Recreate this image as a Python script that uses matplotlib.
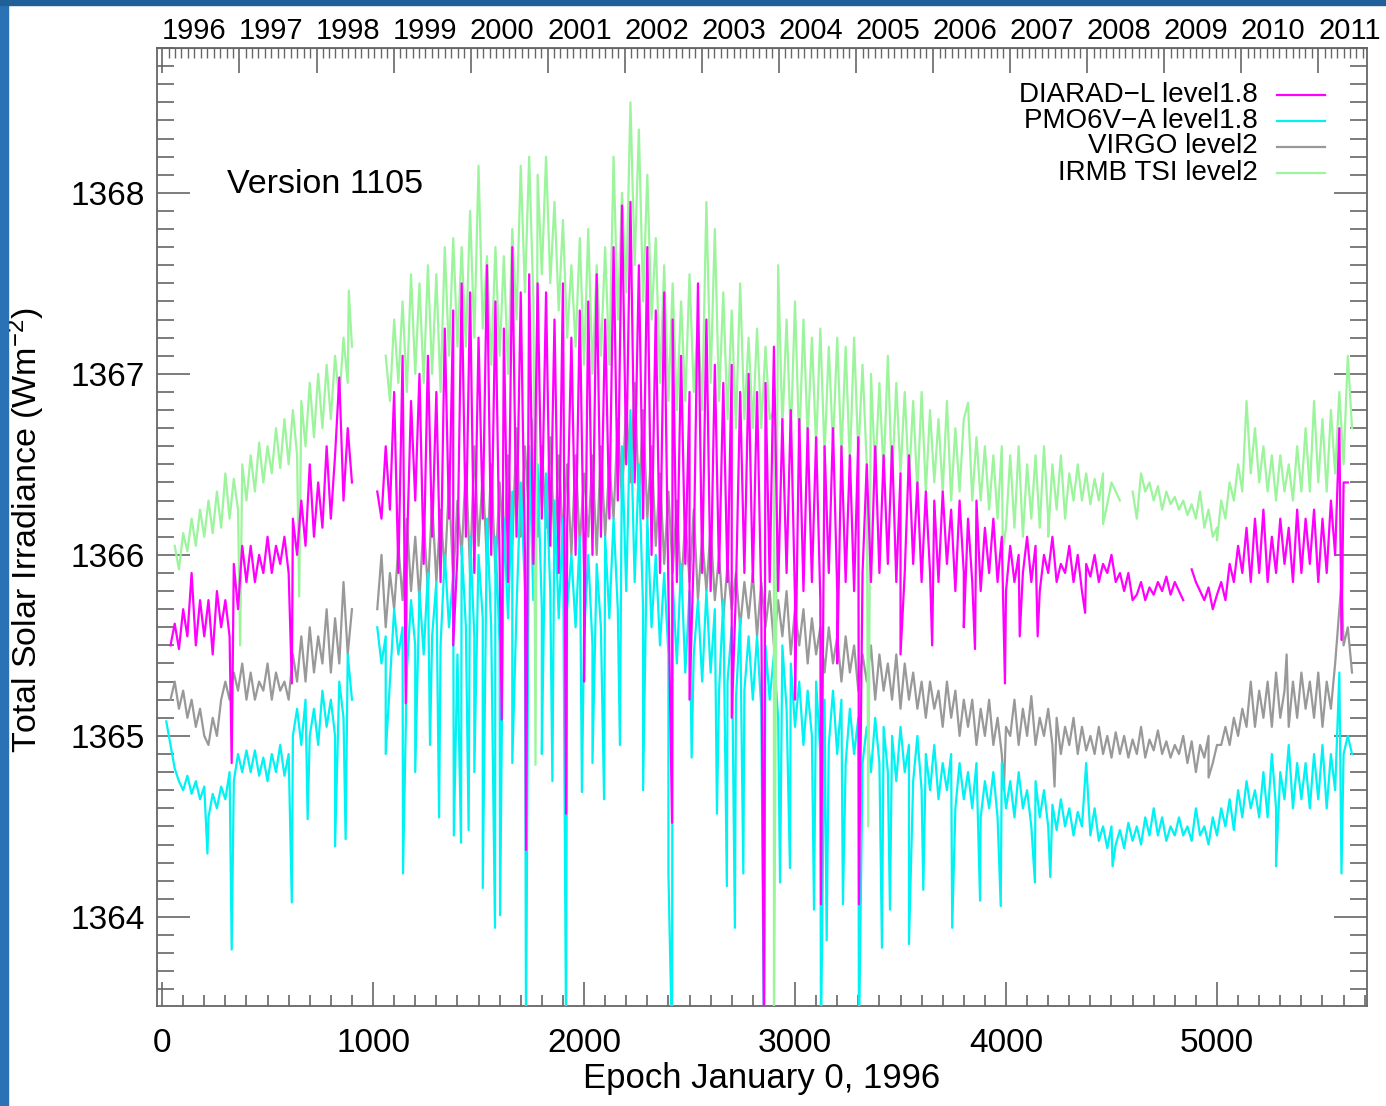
import datetime as dt
import numpy as np
import matplotlib
matplotlib.use('Agg')
import matplotlib.pyplot as plt
from matplotlib.patches import Rectangle
from matplotlib.ticker import MultipleLocator

plt.rcParams['font.family'] = ['Liberation Sans', 'DejaVu Sans']
plt.rcParams['mathtext.fontset'] = 'custom'
plt.rcParams['mathtext.rm'] = 'Liberation Sans'
plt.rcParams['mathtext.it'] = 'Liberation Sans:italic'

nan = np.nan

# sample days (days since January 0, 1996), one value every 20 days
days = np.arange(20, 5641, 20)

# DIARAD-L level1.8
diarad = [
    nan, 1365.5, 1365.62, 1365.48, 1365.7, 1365.55, 1365.9, 1365.5, 1365.75, 1365.55,
    1365.75, 1365.45, 1365.8, 1365.6, 1365.75, 1365.55, 1365.95, 1365.7, 1366.05, 1365.85,
    1366.05, 1365.85, 1366.0, 1365.9, 1366.1, 1365.9, 1366.05, 1365.95, 1366.1, 1365.9,
    1366.2, 1366.0, 1366.3, 1366.05, 1366.5, 1366.1, 1366.4, 1366.15, 1366.6, 1366.2,
    1366.55, 1366.98, 1366.3, 1366.7, 1366.4, nan, nan, nan, nan, nan,
    1366.35, 1366.2, 1366.6, 1366.25, 1366.9, 1365.9, 1367.1, 1366.0, 1366.85, 1366.3,
    1367.0, 1365.95, 1367.1, 1366.1, 1366.9, 1365.85, 1367.25, 1366.2, 1367.35, 1366.0,
    1367.5, 1366.1, 1367.45, 1365.9, 1367.2, 1366.2, 1367.6, 1366.0, 1367.4, 1365.95,
    1367.25, 1365.85, 1367.7, 1366.1, 1367.45, 1366.0, 1367.55, 1365.95, 1367.5, 1366.2,
    1367.45, 1366.05, 1367.3, 1365.9, 1367.5, 1366.15, 1367.2, 1366.0, 1367.35, 1365.9,
    1367.4, 1366.0, 1367.55, 1366.1, 1367.3, 1366.2, 1367.7, 1366.3, 1367.93, 1366.5,
    1367.95, 1366.4, 1367.6, 1366.2, 1367.7, 1366.0, 1367.35, 1365.9, 1367.45, 1365.8,
    1367.3, 1365.85, 1367.1, 1365.95, 1366.9, 1366.0, 1367.5, 1365.9, 1367.3, 1365.8,
    1367.05, 1365.9, 1366.95, 1365.85, 1367.05, 1365.8, 1366.9, 1365.9, 1367.0, 1365.85,
    1366.9, 1365.75, 1366.95, 1365.85, 1367.15, 1365.8, 1366.75, 1365.9, 1366.8, 1365.75,
    1366.75, 1365.8, 1366.7, 1365.85, 1366.65, 1365.75, 1366.6, 1365.9, 1366.7, 1365.8,
    1366.6, 1365.85, 1366.55, 1365.8, 1366.65, 1365.9, 1366.5, 1365.85, 1366.6, 1365.9,
    1366.55, 1365.95, 1366.6, 1365.85, 1366.45, 1365.9, 1366.55, 1365.95, 1366.4, 1365.85,
    1366.35, 1365.9, 1366.3, 1365.85, 1366.35, 1365.95, 1366.25, 1365.8, 1366.3, 1365.9,
    1366.2, 1365.85, 1366.3, 1365.8, 1366.15, 1365.9, 1366.2, 1365.85, 1366.1, 1365.8,
    1366.05, 1365.85, 1366.0, 1365.9, 1366.1, 1365.85, 1366.05, 1365.8, 1366.0, 1365.9,
    1366.1, 1365.85, 1365.95, 1365.9, 1366.05, 1365.85, 1366.0, 1365.8, 1365.95, 1365.88,
    1366.0, 1365.85, 1365.95, 1365.9, 1366.0, 1365.85, 1365.9, 1365.8, 1365.9, 1365.75,
    1365.78, 1365.85, 1365.75, 1365.82, 1365.78, 1365.85, 1365.8, 1365.88, 1365.78, 1365.85,
    1365.8, 1365.75, nan, 1365.92, 1365.85, 1365.8, 1365.75, 1365.82, 1365.7, 1365.78,
    1365.85, 1365.75, 1365.95, 1365.85, 1366.05, 1365.9, 1366.15, 1365.85, 1366.2, 1365.9,
    1366.25, 1365.85, 1366.1, 1365.9, 1366.2, 1365.95, 1366.15, 1365.85, 1366.25, 1365.9,
    1366.2, 1365.95, 1366.25, 1365.85, 1366.2, 1365.9, 1366.3, 1366.0, 1366.7, 1366.4,
    1366.4, nan,
]

# PMO6V-A level1.8
pmo6v = [
    1365.08, 1364.95, 1364.82, 1364.75, 1364.7, 1364.78, 1364.68, 1364.75, 1364.65, 1364.72,
    1364.55, 1364.68, 1364.6, 1364.72, 1364.65, 1364.8, 1364.75, 1364.9, 1364.8, 1364.92,
    1364.8, 1364.92, 1364.78, 1364.88, 1364.75, 1364.9, 1364.8, 1364.95, 1364.78, 1364.9,
    1365.0, 1365.15, 1364.95, 1365.2, 1365.0, 1365.15, 1364.95, 1365.25, 1365.05, 1365.2,
    1365.0, 1365.3, 1365.1, 1365.45, 1365.2, nan, nan, nan, nan, nan,
    1365.6, 1365.4, 1365.55, 1365.3, 1365.7, 1365.45, 1365.6, 1365.35, 1365.75, 1365.5,
    1365.8, 1365.45, 1365.9, 1365.55, 1365.85, 1365.5, 1366.0, 1365.6, 1365.9, 1365.45,
    1366.05, 1365.6, 1366.1, 1365.55, 1366.0, 1365.65, 1366.2, 1365.6, 1366.1, 1365.5,
    1366.2, 1365.65, 1366.35, 1365.7, 1366.4, 1365.8, 1366.6, 1365.75, 1366.5, 1365.7,
    1366.45, 1365.8, 1366.3, 1365.65, 1366.2, 1365.7, 1366.0, 1365.6, 1366.1, 1365.55,
    1366.0, 1365.5, 1365.95, 1365.6, 1366.1, 1365.65, 1366.2, 1365.7, 1366.6, 1365.8,
    1366.8, 1365.85, 1366.5, 1365.7, 1366.2, 1365.6, 1366.0, 1365.5, 1365.9, 1365.45,
    1365.85, 1365.4, 1365.95, 1365.35, 1365.8, 1365.45, 1365.75, 1365.3, 1365.8, 1365.35,
    1365.7, 1365.25, 1365.75, 1365.3, 1365.6, 1365.2, 1365.65, 1365.25, 1365.55, 1365.2,
    1365.55, 1365.15, 1365.5, 1365.2, 1365.45, 1365.1, 1365.5, 1365.15, 1365.4, 1365.05,
    1365.3, 1364.95, 1365.25, 1365.0, 1365.3, 1364.9, 1365.2, 1364.95, 1365.25, 1364.9,
    1365.2, 1364.85, 1365.15, 1364.9, 1365.1, 1364.85, 1365.05, 1364.8, 1365.1, 1364.85,
    1365.05, 1364.8, 1365.0, 1364.75, 1365.05, 1364.8, 1364.95, 1364.75, 1365.0, 1364.7,
    1364.9, 1364.7, 1364.95, 1364.65, 1364.85, 1364.7, 1364.9, 1364.6, 1364.85, 1364.65,
    1364.8, 1364.6, 1364.85, 1364.55, 1364.75, 1364.6, 1364.8, 1364.55, 1364.85, 1364.6,
    1364.75, 1364.55, 1364.8, 1364.6, 1364.7, 1364.5, 1364.75, 1364.55, 1364.7, 1364.5,
    1364.62, 1364.48, 1364.65, 1364.5, 1364.6, 1364.45, 1364.58, 1364.5, 1364.85, 1364.45,
    1364.6, 1364.42, 1364.5, 1364.38, 1364.5, 1364.4, 1364.48, 1364.38, 1364.52, 1364.42,
    1364.5, 1364.4, 1364.55, 1364.45, 1364.6, 1364.45, 1364.55, 1364.42, 1364.5, 1364.45,
    1364.55, 1364.45, 1364.5, 1364.42, 1364.6, 1364.45, 1364.5, 1364.4, 1364.55, 1364.45,
    1364.6, 1364.5, 1364.65, 1364.48, 1364.7, 1364.55, 1364.75, 1364.6, 1364.7, 1364.55,
    1364.8, 1364.55, 1364.9, 1364.6, 1364.8, 1364.65, 1364.95, 1364.6, 1364.85, 1364.65,
    1364.85, 1364.6, 1364.9, 1364.65, 1364.95, 1364.6, 1364.9, 1364.7, 1365.35, 1364.9,
    1365.0, 1364.9,
]

# VIRGO level2
virgo = [
    nan, 1365.2, 1365.3, 1365.15, 1365.25, 1365.1, 1365.2, 1365.05, 1365.15, 1365.0,
    1364.95, 1365.1, 1365.0, 1365.2, 1365.3, 1365.2, 1365.35, 1365.25, 1365.4, 1365.2,
    1365.35, 1365.2, 1365.3, 1365.25, 1365.4, 1365.2, 1365.35, 1365.25, 1365.3, 1365.2,
    1365.45, 1365.3, 1365.55, 1365.3, 1365.6, 1365.35, 1365.55, 1365.4, 1365.7, 1365.35,
    1365.65, 1365.4, 1365.85, 1365.45, 1365.7, nan, nan, nan, nan, nan,
    1365.7, 1366.0, 1365.6, 1365.9, 1365.7, 1366.05, 1365.75, 1366.2, 1365.8, 1366.1,
    1365.75, 1366.2, 1365.8, 1366.3, 1365.85, 1366.25, 1365.9, 1366.4, 1365.85, 1366.3,
    1366.0, 1366.5, 1365.9, 1366.6, 1366.05, 1366.45, 1365.95, 1366.5, 1365.9, 1366.4,
    1366.0, 1366.55, 1366.05, 1366.7, 1366.1, 1366.6, 1366.2, 1366.75, 1366.1, 1366.6,
    1366.15, 1366.65, 1366.05, 1366.55, 1366.1, 1366.5, 1366.0, 1366.55, 1366.05, 1366.45,
    1366.1, 1366.55, 1366.0, 1366.6, 1366.1, 1366.5, 1366.2, 1366.75, 1366.3, 1366.85,
    1366.4, 1366.95, 1366.3, 1366.8, 1366.2, 1366.6, 1366.05, 1366.45, 1365.95, 1366.35,
    1365.9, 1366.3, 1365.8, 1366.2, 1365.85, 1366.25, 1365.75, 1366.1, 1365.8, 1366.15,
    1365.75, 1366.0, 1365.65, 1365.95, 1365.7, 1365.9, 1365.6, 1365.85, 1365.65, 1365.9,
    1365.55, 1365.85, 1365.6, 1365.8, 1365.5, 1365.75, 1365.55, 1365.8, 1365.45, 1365.7,
    1365.5, 1365.7, 1365.4, 1365.65, 1365.45, 1365.6, 1365.35, 1365.6, 1365.4, 1365.55,
    1365.3, 1365.55, 1365.35, 1365.5, 1365.25, 1365.45, 1365.3, 1365.5, 1365.2, 1365.45,
    1365.25, 1365.4, 1365.2, 1365.45, 1365.15, 1365.4, 1365.2, 1365.35, 1365.15, 1365.3,
    1365.1, 1365.3, 1365.15, 1365.25, 1365.05, 1365.3, 1365.1, 1365.25, 1365.0, 1365.2,
    1365.05, 1365.2, 1364.95, 1365.15, 1365.0, 1365.2, 1364.95, 1365.1, 1364.9, 1365.05,
    1365.0, 1365.2, 1364.95, 1365.15, 1365.0, 1365.22, 1364.95, 1365.1, 1365.0, 1365.15,
    1364.95, 1365.1, 1364.9, 1365.05, 1364.95, 1365.1, 1364.9, 1365.05, 1364.92, 1365.0,
    1364.9, 1365.05, 1364.9, 1365.0, 1364.88, 1365.02, 1364.9, 1365.0, 1364.88, 1364.98,
    1364.9, 1365.05, 1364.88, 1364.98, 1364.92, 1365.03, 1364.9, 1364.97, 1364.88, 1364.95,
    1364.9, 1365.0, 1364.85, 1364.97, 1364.8, 1364.95, 1364.88, 1365.0, 1364.85, 1364.95,
    1364.95, 1365.05, 1364.95, 1365.1, 1365.0, 1365.15, 1365.05, 1365.3, 1365.05, 1365.25,
    1365.1, 1365.3, 1365.05, 1365.35, 1365.1, 1365.25, 1365.05, 1365.3, 1365.1, 1365.35,
    1365.15, 1365.3, 1365.1, 1365.35, 1365.05, 1365.3, 1365.15, 1365.4, 1365.7, 1365.5,
    1365.6, 1365.35,
]

# IRMB TSI level2
irmb = [
    nan, nan, 1366.05, 1365.92, 1366.12, 1366.02, 1366.2, 1366.05, 1366.25, 1366.1,
    1366.3, 1366.12, 1366.35, 1366.15, 1366.45, 1366.2, 1366.42, 1366.25, 1366.5, 1366.3,
    1366.55, 1366.35, 1366.62, 1366.4, 1366.6, 1366.45, 1366.7, 1366.48, 1366.75, 1366.5,
    1366.8, 1366.55, 1366.85, 1366.6, 1366.95, 1366.65, 1367.0, 1366.7, 1367.05, 1366.75,
    1367.1, 1366.85, 1367.2, 1366.95, 1367.15, nan, nan, nan, nan, nan,
    nan, nan, 1367.1, 1366.85, 1367.3, 1366.95, 1367.4, 1366.9, 1367.55, 1367.0,
    1367.5, 1366.95, 1367.6, 1367.0, 1367.55, 1366.9, 1367.7, 1367.1, 1367.75, 1367.15,
    1367.7, 1367.15, 1367.9, 1367.2, 1368.15, 1367.25, 1367.65, 1367.05, 1367.7, 1367.1,
    1367.65, 1367.0, 1367.8, 1367.3, 1368.15, 1367.45, 1368.2, 1367.4, 1368.1, 1367.55,
    1368.2, 1367.5, 1367.95, 1367.35, 1367.85, 1367.2, 1367.6, 1367.15, 1367.75, 1367.05,
    1367.8, 1367.0, 1367.6, 1367.1, 1367.7, 1367.05, 1368.2, 1367.3, 1368.0, 1367.45,
    1368.5, 1367.6, 1368.35, 1367.4, 1368.1, 1367.3, 1367.75, 1366.95, 1367.6, 1366.85,
    1367.5, 1366.8, 1367.4, 1366.85, 1367.55, 1366.9, 1367.3, 1366.8, 1367.95, 1366.95,
    1367.8, 1366.85, 1367.45, 1366.75, 1367.35, 1366.7, 1367.5, 1366.75, 1367.2, 1366.7,
    1367.25, 1366.7, 1367.15, 1366.75, 1366.8, 1367.6, 1366.7, 1367.3, 1366.65, 1367.4,
    1366.6, 1367.3, 1366.65, 1367.2, 1366.6, 1367.25, 1366.55, 1367.15, 1366.6, 1367.2,
    1366.55, 1367.15, 1366.5, 1367.2, 1366.55, 1367.05, 1366.5, 1367.0, 1366.45, 1366.95,
    1366.45, 1367.1, 1366.4, 1366.95, 1366.45, 1366.9, 1366.4, 1366.85, 1366.35, 1366.9,
    1366.35, 1366.8, 1366.4, 1366.75, 1366.35, 1366.85, 1366.3, 1366.7, 1366.35, 1366.75,
    1366.84, 1366.3, 1366.65, 1366.3, 1366.6, 1366.25, 1366.55, 1366.2, 1366.6, 1366.15,
    1366.55, 1366.15, 1366.6, 1366.1, 1366.5, 1366.2, 1366.55, 1366.15, 1366.6, 1366.2,
    1366.5, 1366.25, 1366.55, 1366.2, 1366.45, 1366.3, 1366.5, 1366.3, 1366.45, 1366.28,
    1366.42, 1366.3, 1366.45, 1366.28, 1366.4, 1366.35, 1366.3, nan, nan, 1366.35,
    1366.2, 1366.45, 1366.35, 1366.4, 1366.3, 1366.38, 1366.25, 1366.35, 1366.28, 1366.32,
    1366.25, 1366.3, 1366.22, 1366.28, 1366.2, 1366.35, 1366.15, 1366.25, 1366.1, 1366.15,
    1366.3, 1366.2, 1366.4, 1366.3, 1366.5, 1366.35, 1366.85, 1366.45, 1366.7, 1366.4,
    1366.6, 1366.35, 1366.55, 1366.3, 1366.55, 1366.35, 1366.5, 1366.3, 1366.6, 1366.35,
    1366.7, 1366.35, 1366.85, 1366.4, 1366.75, 1366.35, 1366.8, 1366.45, 1366.9, 1366.5,
    1367.1, 1366.7,
]

# short excursions (day, value) seen between the samples
diarad_spikes = [
    (330, 1364.85), (615, 1365.29), (1155, 1365.18), (1380, 1365.5), (1610, 1365.09),
    (1725, 1364.37), (1915, 1364.57), (2000, 1365.3), (2417, 1364.52), (2500, 1365.2),
    (2700, 1365.1), (2853, 1363.3), (3000, 1365.2), (3123, 1364.07), (3200, 1365.4),
    (3303, 1364.07), (3500, 1365.45), (3650, 1365.5), (3800, 1365.6), (3853, 1365.48),
    (3995, 1365.29), (4065, 1365.55), (4150, 1365.55), (4375, 1365.68), (5590, 1365.53),
]
pmo6v_spikes = [
    (215, 1364.35), (330, 1363.82), (615, 1364.08), (690, 1364.54), (820, 1364.39),
    (870, 1364.43), (1060, 1364.9), (1142, 1364.24), (1200, 1364.8), (1270, 1364.95),
    (1313, 1364.55), (1383, 1364.45), (1417, 1364.41), (1453, 1364.48), (1480, 1364.8),
    (1520, 1364.16), (1578, 1363.94), (1602, 1364.01), (1660, 1364.85), (1725, 1363.3),
    (1800, 1364.9), (1850, 1364.75), (1915, 1363.3), (1990, 1364.69), (2040, 1364.85),
    (2095, 1364.65), (2170, 1364.95), (2280, 1364.7), (2400, 1364.24), (2417, 1363.3),
    (2510, 1364.88), (2630, 1364.57), (2677, 1364.17), (2715, 1363.94), (2755, 1364.24),
    (2853, 1363.3), (2929, 1364.19), (2976, 1364.27), (3090, 1364.04), (3123, 1363.3),
    (3150, 1363.87), (3227, 1364.07), (3303, 1363.3), (3412, 1363.83), (3450, 1364.04),
    (3540, 1363.85), (3608, 1364.15), (3745, 1363.94), (3877, 1364.09), (3975, 1364.06),
    (4137, 1364.19), (4210, 1364.22), (4505, 1364.28), (5280, 1364.28), (5590, 1364.24),
]
virgo_spikes = [
    (3990, 1364.7), (4230, 1364.72), (4960, 1364.77), (5330, 1365.45), (5590, 1365.85),
]
irmb_spikes = [
    (370, 1365.5), (650, 1365.77), (885, 1367.46), (1770, 1364.84), (2900, 1363.3),
    (3347, 1364.5), (3985, 1366.03), (4200, 1366.1), (4460, 1366.17), (5000, 1366.08),
]

names = ['DIARAD\u2212L level1.8', 'PMO6V\u2212A level1.8', 'VIRGO level2', 'IRMB TSI level2']
colors = ['#ff00ff', '#00f2f2', '#999999', '#9cf59c']


def with_spikes(vals, spikes):
    d = np.concatenate([days, [s[0] for s in spikes]]).astype(float)
    v = np.concatenate([np.array(vals, dtype=float), [s[1] for s in spikes]])
    order = np.argsort(d, kind='stable')
    return d[order], v[order]


fig = plt.figure(figsize=(13.86, 11.06), dpi=100)
fig.patches.append(Rectangle((0, 0), 8 / 1386, 1, transform=fig.transFigure,
                             color='#2b72b4', zorder=0))
fig.patches.append(Rectangle((0, 1 - 5 / 1106), 1, 5 / 1106, transform=fig.transFigure,
                             color='#215f98', zorder=0))

ax = fig.add_axes([157 / 1386, 1 - 1006 / 1106, 1210 / 1386, 958 / 1106])

series = [(virgo, virgo_spikes, colors[2], 2),
          (pmo6v, pmo6v_spikes, colors[1], 3),
          (irmb, irmb_spikes, colors[3], 4),
          (diarad, diarad_spikes, colors[0], 5)]
for vals, spikes, col, z in series:
    x, y = with_spikes(vals, spikes)
    ax.plot(x, y, color=col, lw=1.6, zorder=z)

ax.set_xlim(-24, 5711)
ax.set_ylim(1363.508, 1368.80)

gc = '#666666'
for sp in ax.spines.values():
    sp.set_color(gc)
    sp.set_linewidth(1.3)

ax.xaxis.set_major_locator(MultipleLocator(1000))
ax.xaxis.set_minor_locator(MultipleLocator(100))
ax.yaxis.set_major_locator(MultipleLocator(1))
ax.yaxis.set_minor_locator(MultipleLocator(0.1))
ax.tick_params(axis='x', which='both', direction='in', top=False, color=gc, width=1.2)
ax.tick_params(axis='x', which='major', length=17, labelsize=24, pad=16)
ax.tick_params(axis='x', which='minor', length=8)
ax.tick_params(axis='y', which='both', direction='in', left=True, right=True,
               color=gc, width=1.2)
ax.tick_params(axis='y', which='major', length=24, labelsize=24, pad=9)
ax.tick_params(axis='y', which='minor', length=12)

# calendar axis on top
epoch = dt.date(1995, 12, 31)
years = list(range(1996, 2012))
year_starts = [(dt.date(y, 1, 1) - epoch).days for y in years]
label_pos = [s + 150 for s in year_starts]
month_starts = [(dt.date(y, m, 1) - epoch).days for y in range(1996, 2012)
                for m in range(1, 13)]
month_starts = [m for m in month_starts if m < 5711]

top = ax.secondary_xaxis('top')
top.set_xticks(year_starts, labels=[''] * len(year_starts))
top.set_xticks(month_starts, minor=True)
top.tick_params(which='major', direction='in', length=18, width=1.2, color=gc)
top.tick_params(which='minor', direction='in', length=7, width=1.0, color=gc)
top.spines['top'].set_color(gc)

lab = ax.secondary_xaxis('top')
lab.set_xticks(label_pos, labels=[str(y) for y in years])
lab.tick_params(length=0, pad=2, labelsize=21)
lab.spines['top'].set_visible(False)

ax.set_xlabel('Epoch January 0, 1996', fontsize=25)
ax.xaxis.set_label_coords(0.5, -0.058)
ax.set_ylabel('Total Solar Irradiance (Wm$^{-2}$)', fontsize=24.5)
ax.yaxis.set_label_coords(-0.091, 0.497)

ax.text(308, 1368.0, 'Version 1105', fontsize=24.5, va='baseline', ha='left')

text_y = [0.9436, 0.9165, 0.8904, 0.8622]
line_y = [0.951, 0.9238, 0.8967, 0.8695]
for name, col, ty, ly in zip(names, colors, text_y, line_y):
    ax.text(0.910, ty, name, transform=ax.transAxes, ha='right', va='baseline', fontsize=20)
    ax.plot([0.9256, 0.9653], [ly, ly], transform=ax.transAxes, color=col, lw=1.6)

fig.savefig('out.png', dpi=100)
